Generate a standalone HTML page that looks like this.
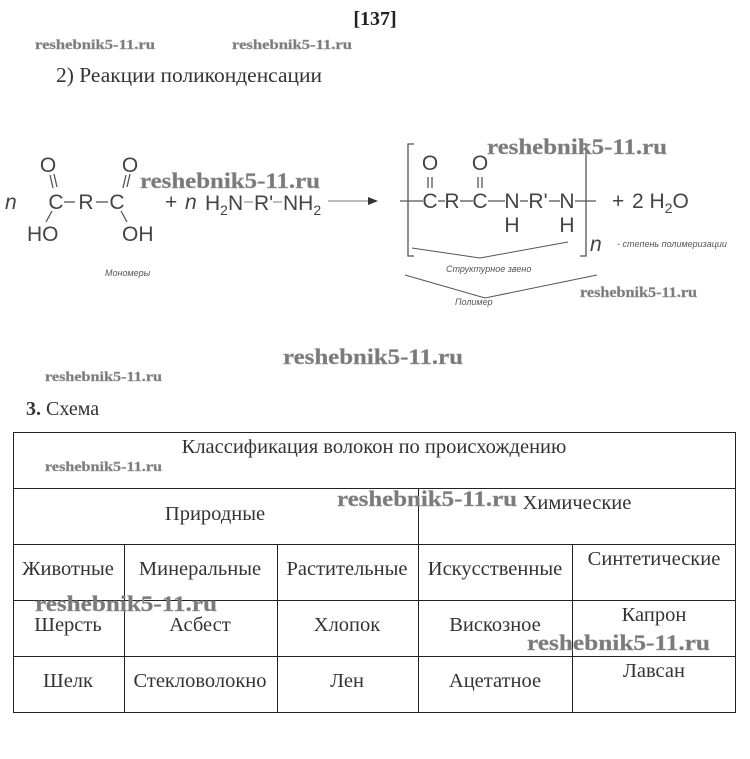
<!DOCTYPE html>
<html><head><meta charset="utf-8"><style>
html,body{margin:0;padding:0;background:#fff;}
svg{display:block}
.wm{font-family:"Liberation Serif",serif;font-weight:bold;fill:#7a7a7a;stroke:#999;stroke-width:0.4}
.ch{font-family:"Liberation Sans","DejaVu Sans",sans-serif;fill:#444;font-size:21px}
.sm{font-family:"Liberation Sans",sans-serif;font-style:italic;fill:#555;font-size:9px}
.t{font-family:"Liberation Serif","DejaVu Serif",serif;fill:#333;font-size:20.5px}
</style></head><body>
<svg width="750" height="759" viewBox="0 0 750 759" xmlns="http://www.w3.org/2000/svg">
<text x="375" y="25" text-anchor="middle" class="t" style="font-weight:bold;font-size:20px;fill:#222">[137]</text>
<text x="35" y="49" class="wm" font-size="14" textLength="120" lengthAdjust="spacingAndGlyphs">reshebnik5-11.ru</text>
<text x="232" y="49" class="wm" font-size="14" textLength="120" lengthAdjust="spacingAndGlyphs">reshebnik5-11.ru</text>
<text x="56" y="82" class="t" style="font-size:21.5px" textLength="266" lengthAdjust="spacingAndGlyphs">2)  Реакции поликонденсации</text>

<!-- left monomer -->
<text x="5" y="209" class="ch" font-style="italic">n</text>
<text x="48" y="172" class="ch" text-anchor="middle">O</text>
<text x="130" y="172" class="ch" text-anchor="middle">O</text>
<text x="56" y="209" class="ch" text-anchor="middle">C</text>
<text x="86" y="209" class="ch" text-anchor="middle">R</text>
<text x="117" y="209" class="ch" text-anchor="middle">C</text>
<g stroke="#555" stroke-width="1.3">
<line x1="50" y1="175" x2="53" y2="188"/><line x1="54" y1="174" x2="57" y2="187"/>
<line x1="126" y1="175" x2="123" y2="188"/><line x1="130" y1="174" x2="127" y2="187"/>
<line x1="64" y1="202" x2="75" y2="202"/><line x1="96" y1="202" x2="108" y2="202"/>
<line x1="52" y1="211" x2="46" y2="222"/><line x1="121" y1="211" x2="127" y2="222"/>
</g>
<text x="27" y="241" class="ch">HO</text>
<text x="122" y="241" class="ch">OH</text>
<text x="105" y="276" class="sm">Мономеры</text>
<text x="165" y="209" class="ch">+</text>
<text x="185" y="209" class="ch" font-style="italic">n</text>
<text x="205" y="210" class="ch">H<tspan font-size="14" dy="5">2</tspan><tspan dy="-5">N</tspan></text>
<text x="254" y="210" class="ch">R'</text>
<text x="283" y="210" class="ch">NH<tspan font-size="14" dy="5">2</tspan></text>
<g stroke="#777" stroke-width="1">
<line x1="244" y1="202" x2="253" y2="202"/><line x1="273" y1="202" x2="282" y2="202"/>
<line x1="328" y1="201" x2="370" y2="201"/>
</g>
<polygon points="368,197 378,201 368,205" fill="#333"/>
<text x="140" y="188" class="wm" font-size="22" textLength="180" lengthAdjust="spacingAndGlyphs">reshebnik5-11.ru</text>

<!-- product -->
<g stroke="#555" stroke-width="1.3" fill="none">
<polyline points="414,144 408,144 408,256 414,256"/>
<polyline points="580,144 586,144 586,256 580,256"/>
<line x1="400" y1="201" x2="423" y2="201"/><line x1="438" y1="201" x2="445" y2="201"/>
<line x1="460" y1="201" x2="473" y2="201"/><line x1="488" y1="201" x2="505" y2="201"/>
<line x1="520" y1="201" x2="528" y2="201"/><line x1="549" y1="201" x2="560" y2="201"/>
<line x1="575" y1="201" x2="596" y2="201"/>
<line x1="428" y1="177" x2="428" y2="188"/><line x1="432" y1="177" x2="432" y2="188"/>
<line x1="478" y1="177" x2="478" y2="188"/><line x1="482" y1="177" x2="482" y2="188"/>
<polyline stroke-width="1" points="412,248 480,258 568,242"/>
<polyline stroke-width="1" points="405,275 485,298 597,275"/>
</g>
<text x="430" y="170" class="ch" text-anchor="middle">O</text>
<text x="480" y="170" class="ch" text-anchor="middle">O</text>
<text x="430" y="208" class="ch" text-anchor="middle">C</text>
<text x="452" y="208" class="ch" text-anchor="middle">R</text>
<text x="480" y="208" class="ch" text-anchor="middle">C</text>
<text x="512" y="208" class="ch" text-anchor="middle">N</text>
<text x="538" y="208" class="ch" text-anchor="middle">R'</text>
<text x="567" y="208" class="ch" text-anchor="middle">N</text>
<text x="512" y="232" class="ch" text-anchor="middle">H</text>
<text x="567" y="232" class="ch" text-anchor="middle">H</text>
<text x="590" y="251" class="ch" font-style="italic" font-size="24">n</text>
<text x="612" y="208" class="ch">+</text>
<text x="632" y="208" class="ch">2 H<tspan font-size="14" dy="5">2</tspan><tspan dy="-5">O</tspan></text>
<text x="617" y="247" class="sm">- степень полимеризации</text>
<text x="446" y="272" class="sm">Структурное звено</text>
<text x="455" y="305" class="sm">Полимер</text>
<text x="487" y="154" class="wm" font-size="22" textLength="180" lengthAdjust="spacingAndGlyphs">reshebnik5-11.ru</text>
<text x="580" y="297" class="wm" font-size="15" textLength="117" lengthAdjust="spacingAndGlyphs">reshebnik5-11.ru</text>

<text x="283" y="364" class="wm" font-size="22" textLength="180" lengthAdjust="spacingAndGlyphs">reshebnik5-11.ru</text>
<text x="45" y="381" class="wm" font-size="14" textLength="117" lengthAdjust="spacingAndGlyphs">reshebnik5-11.ru</text>
<text x="26" y="415" class="t" style="font-size:20px"><tspan font-weight="bold">3.</tspan>  Схема</text>

<!-- table -->
<g stroke="#222" stroke-width="1" fill="none">
<rect x="13.5" y="432.5" width="722" height="280"/>
<line x1="13" y1="488.5" x2="736" y2="488.5"/>
<line x1="13" y1="544.5" x2="736" y2="544.5"/>
<line x1="13" y1="600.5" x2="736" y2="600.5"/>
<line x1="13" y1="656.5" x2="736" y2="656.5"/>
<line x1="418.5" y1="488" x2="418.5" y2="712"/>
<line x1="124.5" y1="544" x2="124.5" y2="712"/>
<line x1="277.5" y1="544" x2="277.5" y2="712"/>
<line x1="572.5" y1="544" x2="572.5" y2="712"/>
</g>
<text x="374" y="453" class="t" text-anchor="middle">Классификация волокон по происхождению</text>
<text x="215" y="520" class="t" text-anchor="middle">Природные</text>
<text x="577" y="509" class="t" text-anchor="middle">Химические</text>
<text x="68" y="575" class="t" text-anchor="middle">Животные</text>
<text x="200" y="575" class="t" text-anchor="middle">Минеральные</text>
<text x="347" y="575" class="t" text-anchor="middle">Растительные</text>
<text x="495" y="575" class="t" text-anchor="middle">Искусственные</text>
<text x="654" y="565" class="t" text-anchor="middle">Синтетические</text>
<text x="68" y="631" class="t" text-anchor="middle">Шерсть</text>
<text x="200" y="631" class="t" text-anchor="middle">Асбест</text>
<text x="347" y="631" class="t" text-anchor="middle">Хлопок</text>
<text x="495" y="631" class="t" text-anchor="middle">Вискозное</text>
<text x="654" y="621" class="t" text-anchor="middle">Капрон</text>
<text x="68" y="687" class="t" text-anchor="middle">Шелк</text>
<text x="200" y="687" class="t" text-anchor="middle">Стекловолокно</text>
<text x="347" y="687" class="t" text-anchor="middle">Лен</text>
<text x="495" y="687" class="t" text-anchor="middle">Ацетатное</text>
<text x="654" y="677" class="t" text-anchor="middle">Лавсан</text>
<text x="45" y="471" class="wm" font-size="14" textLength="117" lengthAdjust="spacingAndGlyphs">reshebnik5-11.ru</text>
<text x="337" y="506" class="wm" font-size="22" textLength="180" lengthAdjust="spacingAndGlyphs">reshebnik5-11.ru</text>
<text x="35" y="611" class="wm" font-size="22" textLength="182" lengthAdjust="spacingAndGlyphs">reshebnik5-11.ru</text>
<text x="527" y="650" class="wm" font-size="22" textLength="183" lengthAdjust="spacingAndGlyphs">reshebnik5-11.ru</text>
</svg>
</body></html>
